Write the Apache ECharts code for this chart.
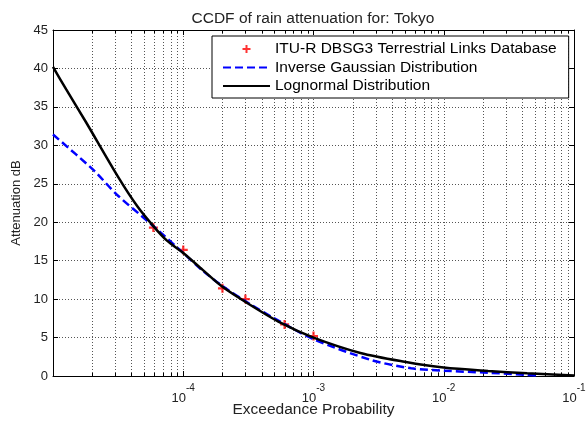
<!DOCTYPE html>
<html>
<head>
<meta charset="utf-8">
<script src="https://cdn.jsdelivr.net/npm/echarts@6/dist/echarts.min.js"></script>
<style>html,body{margin:0;padding:0;background:#fff;}#c{width:586px;height:421px;}</style>
</head>
<body>
<div id="c"></div>
<script>
// ---- data ----
var titleText = 'CCDF of rain attenuation for: Tokyo';
var xName = 'Exceedance Probability';
var yName = 'Attenuation dB';
var seriesNames = ['ITU-R DBSG3 Terrestrial Links Database', 'Inverse Gaussian Distribution', 'Lognormal Distribution'];

var measP = [5.9e-5, 1e-4, 2e-4, 3e-4, 6e-4, 1e-3];
var measA = [19.3, 16.4, 11.4, 10.0, 6.7, 5.2];

var invGaussP = [1e-5, 2.04e-5, 3.09e-5, 5.62e-5, 1e-4, 1.41e-4, 2e-4, 3.16e-4, 5e-4, 1e-3, 2.75e-3, 5.62e-3, 1e-2, 2.19e-2, 4.37e-2, 5.4e-2];
var invGaussA = [31.4, 26.8, 23.6, 19.8, 16.0, 13.7, 11.7, 9.5, 7.5, 4.8, 2.1, 1.0, 0.69, 0.43, 0.13, 0.02];

var lognP = [1e-5, 1.26e-5, 1.78e-5, 3.16e-5, 4.47e-5, 5.89e-5, 7.5e-5, 1e-4, 1.41e-4, 2e-4, 3.16e-4, 5.62e-4, 1e-3, 2.29e-3, 5e-3, 1e-2, 2.19e-2, 4.37e-2, 1e-1];
var lognA = [40.2, 37.3, 33.1, 25.9, 22.0, 19.5, 17.6, 16.0, 13.8, 11.6, 9.4, 6.9, 5.0, 3.0, 1.86, 1.1, 0.65, 0.35, 0.05];

var xMin = 1e-5, xMax = 1e-1;
var yMin = 0, yMax = 45, yStep = 5;
var minorMultipliers = [2, 3, 4, 5, 6, 7, 8, 9];
var minorDecades = [1e-5, 1e-4, 1e-3, 1e-2];

// ---- build ----
function zip(a, b) { return a.map(function (v, i) { return [v, b[i]]; }); }
var minorTicks = [];
minorDecades.forEach(function (d) { minorMultipliers.forEach(function (m) { minorTicks.push([m * d, 0]); }); });

var FONT = '"Liberation Sans", Arial, Helvetica, sans-serif';
var plusPath = 'path://M3,0h2v3h3v2h-3v3h-2v-3h-3v-2h3z';
var gridDash = { color: '#555', type: [1, 2], width: 1 };

var chart = echarts.init(document.getElementById('c'), null, { renderer: 'canvas' });
var option = {
  animation: false,
  backgroundColor: '#fff',
  textStyle: { fontFamily: FONT },
  title: {
    text: titleText, left: 308, top: 6, textAlign: 'center',
    textStyle: { fontFamily: FONT, fontSize: 15.5, fontWeight: 'normal', color: '#222' }
  },
  grid: { left: 53, right: 12, top: 30, bottom: 45, containLabel: false, outerBoundsMode: 'none' },
  legend: {
    data: [
      { name: seriesNames[0] },
      { name: seriesNames[1] },
      { name: seriesNames[2] }
    ],
    orient: 'vertical', left: 212, top: 36,
    itemWidth: 47, itemHeight: 8, itemGap: 2.5,
    padding: [5, 12, 4, 10],
    backgroundColor: '#fff', borderColor: '#000', borderWidth: 1, borderRadius: 0,
    textStyle: { fontFamily: FONT, fontSize: 15.5, color: '#000', lineHeight: 15 },
    selectedMode: false
  },
  xAxis: [{
    type: 'log', logBase: 10, min: xMin, max: xMax,
    name: xName, nameLocation: 'middle', nameGap: 26, nameMoveOverlap: false,
    nameTextStyle: { fontFamily: FONT, fontSize: 15.5, color: '#222' },
    axisLine: { show: true, onZero: false, lineStyle: { color: '#000', width: 1 } },
    axisTick: { show: true, inside: true, length: 5, lineStyle: { color: '#000' } },
    splitLine: { show: true, lineStyle: gridDash },
    axisLabel: {
      margin: 7, color: '#222',
      formatter: function (v) {
        var e = Math.round(Math.log(v) / Math.LN10);
        if (e <= -5) return '';
        return '{b|10}{s|' + e + '}';
      },
      rich: {
        b: { fontFamily: FONT, fontSize: 13, color: '#222', verticalAlign: 'bottom', lineHeight: 22 },
        s: { fontFamily: FONT, fontSize: 10, color: '#222', verticalAlign: 'top', lineHeight: 22 }
      }
    }
  }, {
    type: 'log', logBase: 10, min: xMin, max: xMax, position: 'top',
    axisLine: { show: true, onZero: false, lineStyle: { color: '#000', width: 1 } },
    axisTick: { show: true, inside: true, length: 5, lineStyle: { color: '#000' } },
    splitLine: { show: false }, axisLabel: { show: false }
  }],
  yAxis: [{
    type: 'value', min: yMin, max: yMax, interval: yStep,
    name: yName, nameLocation: 'middle', nameGap: 30, nameMoveOverlap: false,
    nameTextStyle: { fontFamily: FONT, fontSize: 13, color: '#222' },
    axisLine: { show: true, onZero: false, lineStyle: { color: '#000', width: 1 } },
    axisTick: { show: true, inside: true, length: 5, lineStyle: { color: '#000' } },
    splitLine: { show: true, lineStyle: gridDash },
    axisLabel: { margin: 5, fontFamily: FONT, fontSize: 13, color: '#222' }
  }, {
    type: 'value', min: yMin, max: yMax, interval: yStep, position: 'right',
    axisLine: { show: true, onZero: false, lineStyle: { color: '#000', width: 1 } },
    axisTick: { show: true, inside: true, length: 5, lineStyle: { color: '#000' } },
    splitLine: { show: false }, axisLabel: { show: false }
  }],
  series: [
    {
      type: 'custom', name: 'minorgrid', silent: true, z: 1,
      xAxisIndex: 0, yAxisIndex: 0,
      data: minorTicks,
      encode: { x: 0, y: 1 },
      renderItem: function (params, api) {
        var x = Math.round(api.coord([api.value(0), 0])[0]) + 0.5;
        var cs = params.coordSys;
        var top = cs.y, bottom = cs.y + cs.height;
        return {
          type: 'group', children: [
            { type: 'line', shape: { x1: x, y1: top, x2: x, y2: bottom }, style: { stroke: '#555', lineWidth: 1, lineDash: [1, 2] } },
            { type: 'line', shape: { x1: x, y1: bottom, x2: x, y2: bottom - 3 }, style: { stroke: '#000', lineWidth: 1 } },
            { type: 'line', shape: { x1: x, y1: top, x2: x, y2: top + 3 }, style: { stroke: '#000', lineWidth: 1 } }
          ]
        };
      }
    },
    {
      type: 'scatter', name: seriesNames[0], z: 3,
      data: zip(measP, measA),
      symbol: plusPath, symbolSize: 9,
      itemStyle: { color: '#ff0000' }
    },
    {
      type: 'line', name: seriesNames[1], z: 4,
      data: zip(invGaussP, invGaussA),
      smooth: 0.3, symbol: 'none', showSymbol: false,
      lineStyle: { color: '#0000ff', width: 2.5, type: [8, 4] },
      itemStyle: { color: 'rgba(0,0,0,0)' }
    },
    {
      type: 'line', name: seriesNames[2], z: 5,
      data: zip(lognP, lognA),
      smooth: 0.3, symbol: 'none', showSymbol: false,
      lineStyle: { color: '#000', width: 2.5 },
      itemStyle: { color: 'rgba(0,0,0,0)' }
    }
  ]
};
chart.setOption(option);
</script>
</body>
</html>
